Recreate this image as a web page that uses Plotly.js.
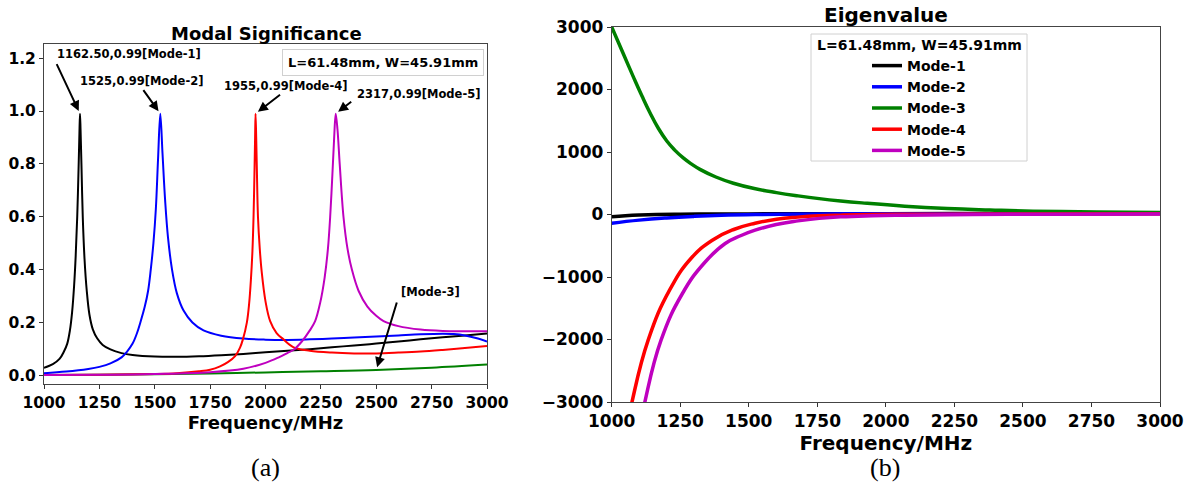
<!DOCTYPE html>
<html>
<head>
<meta charset="utf-8">
<script src="https://cdn.plot.ly/plotly-3.0.1.min.js"></script>
<style>
html,body{margin:0;padding:0;background:#ffffff;}
#chart{width:1191px;height:487px;}
</style>
</head>
<body>
<div id="chart"></div>
<script>
// ---------- Data: Modal Significance (left panel) ----------
const modeNames = ['Mode-1', 'Mode-2', 'Mode-3', 'Mode-4', 'Mode-5'];
const modeColors = ['#000000', '#0000ff', '#008000', '#ff0000', '#bf00bf'];

const msFreq1 = [1000,1040,1070,1090,1105,1117,1127,1136,1143,1150,1156,1160,1162.5,1165,1169,1175,1183,1193,1205,1220,1240,1265,1300,1350,1400,1500,1600,1700,1800,1900,2000,2100,2200,2300,2400,2500,2600,2700,2800,2900,3000];
const msMode1  = [0.028,0.042,0.062,0.09,0.12,0.17,0.24,0.34,0.45,0.6,0.78,0.92,0.99,0.93,0.8,0.6,0.44,0.32,0.23,0.175,0.14,0.115,0.098,0.084,0.077,0.071,0.070,0.072,0.076,0.081,0.087,0.093,0.099,0.106,0.113,0.120,0.128,0.136,0.144,0.151,0.158];

const msFreq2 = [1000,1100,1200,1250,1300,1350,1375,1400,1420,1435,1455,1470,1482,1494,1505,1515,1525,1535,1547,1560,1578,1600,1630,1670,1720,1800,1900,2000,2100,2200,2300,2400,2500,2600,2700,2800,2850,2900,2950,3000];
const msMode2  = [0.008,0.014,0.024,0.032,0.045,0.068,0.09,0.12,0.16,0.2,0.26,0.32,0.4,0.5,0.63,0.82,0.99,0.84,0.66,0.52,0.4,0.31,0.245,0.2,0.17,0.15,0.139,0.135,0.134,0.136,0.139,0.143,0.147,0.151,0.155,0.157,0.156,0.151,0.141,0.128];

const msFreq3 = [1000,1250,1500,1750,2000,2250,2500,2750,3000];
const msMode3  = [0.001,0.002,0.004,0.007,0.011,0.015,0.02,0.029,0.041];

const msFreq4 = [1000,1250,1500,1600,1700,1750,1795,1830,1863,1885,1898,1916,1926,1934,1941,1946,1950,1953,1955,1958,1961,1966,1974,1983,2000,2021,2050,2081,2127,2200,2300,2400,2500,2600,2700,2800,2900,3000];
const msMode4  = [0.001,0.002,0.005,0.008,0.015,0.021,0.034,0.05,0.073,0.105,0.136,0.2,0.27,0.36,0.47,0.6,0.76,0.9,0.99,0.9,0.78,0.6,0.48,0.39,0.28,0.205,0.16,0.136,0.106,0.093,0.086,0.083,0.083,0.086,0.09,0.096,0.103,0.111];

const msFreq5 = [1000,1250,1500,1750,1900,2000,2060,2100,2127,2164,2200,2224,2247,2267,2282,2292,2302,2310,2317,2325,2335,2352,2370,2390,2420,2460,2500,2533,2600,2700,2800,2900,3000];
const msMode5  = [0.001,0.002,0.005,0.012,0.025,0.047,0.068,0.085,0.097,0.128,0.17,0.205,0.275,0.37,0.48,0.6,0.76,0.9,0.99,0.93,0.8,0.6,0.48,0.4,0.32,0.26,0.225,0.205,0.186,0.173,0.168,0.167,0.167];

// ---------- Data: Eigenvalue (right panel) ----------
const evFreq1 = [1000,1050,1100,1162.5,1250,1500,2000,2500,3000];
const evMode1  = [-35,-20,-9,0,5,10,14,17,20];

const evFreq2 = [1000,1100,1200,1300,1400,1525,1750,2000,2500,3000];
const evMode2  = [-140,-90,-55,-30,-12,0,8,12,14,15];

const evFreq3 = [1000,1042,1079,1110,1140,1170,1201,1230,1261,1290,1322,1380,1444,1520,1601,1680,1757,1835,1913,2069,2224,2380,2537,2770,3000];
const evMode3  = [3000,2576,2202,1900,1625,1380,1175,1030,905,810,722,600,500,415,350,298,254,217,186,133,96,72,53,41,32];

const evFreq4 = [1060,1074,1133,1211,1289,1367,1445,1523,1601,1679,1757,1835,1955,2200,2600,3000];
const evMode4  = [-3300,-3000,-2010,-1211,-704,-411,-240,-140,-75,-42,-21,-10,0,6,10,13];

const evFreq5 = [1105,1121,1180,1258,1336,1414,1470,1523,1600,1679,1757,1835,1950,2069,2317,2600,3000];
const evMode5  = [-3350,-3000,-2010,-1264,-784,-464,-340,-251,-160,-102,-62,-37,-20,-11,0,5,10];

// ---------- Labels ----------
const leftTitle = 'Modal Significance';
const rightTitle = 'Eigenvalue';
const xTitle = 'Frequency/MHz';
const dimLabel = 'L=61.48mm, W=45.91mm';
const peakLabels = ['1162.50,0.99[Mode-1]', '1525,0.99[Mode-2]', '1955,0.99[Mode-4]', '2317,0.99[Mode-5]', '[Mode-3]'];
const peakFreqs = [1162.5, 1525, 1955, 2317, 2500];
const peakVals = [0.99, 0.99, 0.99, 0.99, 0.02];
const captions = ['(a)', '(b)'];

// ---------- Layout helpers ----------
const W = 1191, H = 487;
const px = v => v / W;
const py = v => 1 - v / H;
const FF = 'DejaVu Sans';
const bold = (size) => ({family: FF, size: size, color: '#000000', weight: 'bold'});

const msX = [msFreq1, msFreq2, msFreq3, msFreq4, msFreq5];
const msY = [msMode1, msMode2, msMode3, msMode4, msMode5];
const evX = [evFreq1, evFreq2, evFreq3, evFreq4, evFreq5];
const evY = [evMode1, evMode2, evMode3, evMode4, evMode5];

const traces = [];
for (let i = 0; i < 5; i++) {
  traces.push({
    type: 'scatter', mode: 'lines', x: msX[i], y: msY[i], xaxis: 'x', yaxis: 'y',
    name: modeNames[i], showlegend: false,
    line: {color: modeColors[i], width: 2, shape: 'spline', smoothing: 1.0}
  });
}
for (let i = 0; i < 5; i++) {
  traces.push({
    type: 'scatter', mode: 'lines', x: evX[i], y: evY[i], xaxis: 'x2', yaxis: 'y2',
    name: modeNames[i], showlegend: true,
    line: {color: modeColors[i], width: 3.5, shape: 'spline', smoothing: 1.3}
  });
}

function axisBase(tsize) {
  return {
    showgrid: false, zeroline: false, showline: true, linecolor: '#444', linewidth: 1,
    mirror: true, ticks: 'outside', ticklen: 4, tickwidth: 1, tickcolor: '#333',
    tickfont: bold(tsize), automargin: false
  };
}

const xaxis = Object.assign(axisBase(15.5), {
  domain: [px(44), px(487)], range: [1000, 3000], tick0: 1000, dtick: 250, anchor: 'y',
  title: {text: xTitle, font: bold(18), standoff: 0}
});
const yaxis = Object.assign(axisBase(15.5), {
  domain: [py(384.3), py(44)], range: [-0.034, 1.2535], tick0: 0, dtick: 0.2, tickformat: '.1f', anchor: 'x'
});
const xaxis2 = Object.assign(axisBase(17), {
  domain: [px(611.7), px(1160)], range: [1000, 3000], tick0: 1000, dtick: 250, anchor: 'y2',
  title: {text: xTitle, font: bold(20), standoff: 0}
});
const yaxis2 = Object.assign(axisBase(17), {
  domain: [py(402), py(27)], range: [-3000, 3000], tick0: 0, dtick: 1000, anchor: 'x2'
});

// text positions (data coords of left panel)
const textPos = [
  {x: 1049.7, y: 1.2157}, {x: 1153.5, y: 1.1135}, {x: 1803.6, y: 1.0946}, {x: 2404, y: 1.0643}, {x: 2602.7, y: 0.3152}
];
const arrowOff = [[-24, -51], [-18, -25], [26, -20], [17, -13], [21, -69]];

const annotations = [];
for (let i = 0; i < 5; i++) {
  annotations.push({
    xref: 'x', yref: 'y', x: textPos[i].x, y: textPos[i].y, xanchor: 'left', yanchor: 'middle',
    text: peakLabels[i], showarrow: false, font: bold(11.5)
  });
  annotations.push({
    xref: 'x', yref: 'y', x: peakFreqs[i], y: peakVals[i], ax: arrowOff[i][0], ay: arrowOff[i][1],
    text: '', showarrow: true, arrowhead: 2, arrowsize: 1, arrowwidth: 2, arrowcolor: '#000000', standoff: 3
  });
}
// left "legend" box
annotations.push({
  xref: 'paper', yref: 'paper', x: px(382.5), y: py(62), xanchor: 'center', yanchor: 'middle',
  text: dimLabel, showarrow: false, font: bold(13), bordercolor: '#d0d0d0', borderwidth: 1,
  borderpad: 5, bgcolor: '#ffffff'
});
// right legend title
annotations.push({
  xref: 'paper', yref: 'paper', x: px(919), y: py(45), xanchor: 'center', yanchor: 'middle',
  text: dimLabel, showarrow: false, font: bold(14)
});
// panel titles
annotations.push({
  xref: 'paper', yref: 'paper', x: px(266), y: py(33), xanchor: 'center', yanchor: 'middle',
  text: leftTitle, showarrow: false, font: bold(18)
});
annotations.push({
  xref: 'paper', yref: 'paper', x: px(886), y: py(15), xanchor: 'center', yanchor: 'middle',
  text: rightTitle, showarrow: false, font: bold(20)
});
// captions
annotations.push({
  xref: 'paper', yref: 'paper', x: px(265), y: py(467), xanchor: 'center', yanchor: 'middle',
  text: captions[0], showarrow: false, font: {family: 'Liberation Serif', size: 26, color: '#000000'}
});
annotations.push({
  xref: 'paper', yref: 'paper', x: px(885), y: py(467), xanchor: 'center', yanchor: 'middle',
  text: captions[1], showarrow: false, font: {family: 'Liberation Serif', size: 26, color: '#000000'}
});

const layout = {
  width: W, height: H,
  margin: {l: 0, r: 0, t: 0, b: 0, pad: 0},
  paper_bgcolor: '#ffffff', plot_bgcolor: '#ffffff',
  font: {family: FF, color: '#000000'},
  xaxis: xaxis, yaxis: yaxis, xaxis2: xaxis2, yaxis2: yaxis2,
  showlegend: true,
  legend: {
    x: px(867), y: py(50), xanchor: 'left', yanchor: 'top',
    bgcolor: 'rgba(0,0,0,0)', borderwidth: 0, font: bold(14), tracegroupgap: 0
  },
  shapes: [{
    type: 'rect', xref: 'paper', yref: 'paper',
    x0: px(811), x1: px(1027), y0: py(161), y1: py(34),
    line: {color: '#d0d0d0', width: 1}, fillcolor: 'rgba(255,255,255,0.8)', layer: 'above'
  }],
  annotations: annotations,
  hovermode: false
};

Plotly.newPlot('chart', traces, layout, {staticPlot: true, displayModeBar: false});
</script>
</body>
</html>
